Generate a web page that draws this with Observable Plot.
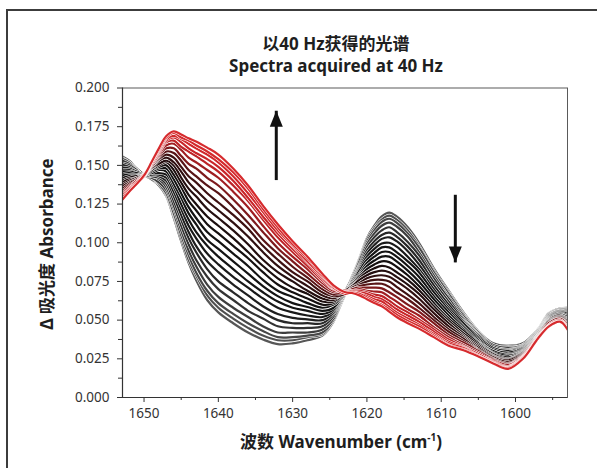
<!DOCTYPE html>
<html><head><meta charset="utf-8">
<script src="https://cdn.jsdelivr.net/npm/d3@7"></script>
<script src="https://cdn.jsdelivr.net/npm/@observablehq/plot@0.6"></script>
<style>
html,body{margin:0;padding:0;background:#fff;overflow:hidden;}
#wrap{position:relative;width:597px;height:468px;overflow:hidden;font-family:'Noto Sans','Noto Sans CJK SC',sans-serif;}
#frame{position:absolute;left:6px;top:9px;width:700px;height:600px;border-left:2px solid #3c3c3c;border-top:2px solid #3c3c3c;}
#chart{position:absolute;left:0;top:0;}
.t{position:absolute;font-weight:bold;color:#1e1e1e;white-space:nowrap;}
#t1{left:136px;width:400px;text-align:center;top:33px;line-height:22px;font-size:17px;}
#t2{left:136px;width:400px;text-align:center;top:55px;line-height:22px;font-size:17px;}
#yl{left:45px;top:244px;font-size:17px;transform:translate(-50%,-50%) rotate(-90deg);}
#xl{left:341px;top:440px;font-size:17px;transform:translate(-50%,-50%);}
</style></head>
<body>
<div id="wrap">
  <div id="frame"></div>
  <div id="chart"></div>
  <div class="t" id="t1">以40 Hz获得的光谱</div>
  <div class="t" id="t2">Spectra acquired at 40 Hz</div>
  <div class="t" id="yl">Δ 吸光度 Absorbance</div>
  <div class="t" id="xl">波数 Wavenumber (cm<sup style="font-size:10px">-1</sup>)</div>
</div>
<script>
const xDomain = [1652.9, 1593];
const yDomain = [0, 0.2];
const wavenumbers = [1653.4, 1652, 1651, 1650, 1649, 1648, 1647, 1646, 1645, 1644, 1643, 1641.5, 1640, 1638, 1636, 1634, 1632, 1630, 1628, 1626, 1624.5, 1622.9, 1622, 1621, 1620, 1619, 1618, 1617, 1616, 1614.5, 1613, 1611, 1609, 1607, 1605, 1603, 1601, 1599, 1597, 1595.5, 1594, 1593];
// one row per wavenumber, one column per spectrum (first = earliest, gray; last = latest, red)
const absorbance = [
[.157,.156,.155,.154,.152,.151,.149,.147,.146,.144,.143,.141,.139,.138,.136,.135,.133,.131,.130,.129,.128,.127,.126,.125],
[.153,.152,.152,.151,.150,.149,.148,.147,.146,.145,.144,.143,.142,.141,.140,.139,.138,.137,.136,.135,.135,.134,.134,.133],
[.148,.148,.147,.147,.147,.146,.146,.145,.145,.144,.144,.143,.143,.142,.142,.141,.141,.140,.140,.139,.139,.139,.138,.138],
[.144,.144,.143,.143,.143,.144,.144,.143,.144,.144,.143,.144,.143,.144,.144,.143,.144,.143,.144,.143,.144,.143,.143,.1435],
[.141,.141,.142,.142,.143,.143,.144,.144,.145,.145,.146,.147,.147,.148,.148,.149,.149,.150,.150,.151,.151,.152,.152,.152],
[.137,.138,.138,.139,.141,.142,.143,.144,.145,.147,.148,.149,.150,.151,.153,.154,.155,.156,.157,.158,.159,.160,.160,.161],
[.130,.131,.132,.134,.136,.138,.140,.142,.144,.146,.148,.150,.152,.153,.155,.157,.159,.161,.163,.165,.166,.167,.168,.169],
[.116,.118,.119,.122,.124,.127,.130,.133,.136,.138,.141,.144,.147,.150,.152,.155,.158,.161,.164,.166,.168,.169,.171,.172],
[.101,.103,.105,.108,.111,.115,.118,.122,.125,.129,.132,.136,.139,.142,.146,.149,.153,.156,.160,.162,.165,.167,.168,.170],
[.087,.089,.092,.095,.099,.103,.107,.111,.115,.119,.123,.127,.131,.135,.139,.143,.147,.151,.155,.159,.161,.164,.166,.1675],
[.076,.079,.081,.085,.089,.094,.098,.103,.107,.112,.116,.121,.125,.130,.134,.139,.143,.148,.152,.156,.158,.161,.163,.1655],
[.063,.066,.069,.073,.078,.083,.088,.093,.098,.102,.107,.112,.117,.122,.127,.132,.137,.142,.147,.151,.154,.157,.159,.1615],
[.055,.058,.061,.065,.070,.075,.081,.086,.091,.096,.101,.106,.111,.116,.121,.126,.132,.137,.142,.146,.149,.152,.154,.157],
[.048,.051,.054,.058,.063,.068,.073,.078,.083,.088,.093,.098,.103,.108,.113,.118,.123,.128,.133,.137,.140,.143,.1455,.148],
[.042,.045,.048,.052,.056,.061,.066,.071,.075,.080,.085,.090,.094,.099,.104,.109,.113,.118,.123,.127,.129,.132,.135,.137],
[.0375,.040,.043,.046,.051,.055,.059,.064,.068,.072,.076,.081,.085,.089,.094,.098,.102,.107,.111,.115,.117,.120,.122,.124],
[.0345,.037,.039,.042,.046,.050,.054,.058,.062,.0655,.069,.073,.077,.081,.085,.089,.093,.0965,.100,.1035,.106,.108,.110,.112],
[.035,.037,.039,.042,.045,.048,.0515,.055,.058,.061,.065,.068,.071,.075,.078,.081,.0845,.088,.091,.094,.096,.098,.099,.101],
[.037,.039,.040,.042,.045,.048,.0505,.053,.056,.0585,.061,.064,.067,.069,.072,.075,.0775,.080,.083,.085,.087,.088,.090,.091],
[.040,.041,.042,.044,.046,.048,.050,.052,.054,.056,.058,.060,.062,.064,.066,.068,.070,.072,.074,.0756,.0768,.078,.079,.080],
[.049,.050,.050,.051,.0525,.054,.055,.056,.057,.058,.060,.061,.062,.063,.064,.0655,.0665,.068,.069,.070,.0705,.071,.072,.0725],
[.068,.067,.068,.069,.068,.067,.068,.068,.069,.068,.067,.068,.068,.069,.068,.067,.068,.068,.069,.068,.068,.067,.068,.068],
[.078,.078,.077,.077,.076,.076,.075,.075,.074,.074,.073,.073,.072,.072,.071,.071,.070,.070,.069,.069,.068,.068,.068,.0675],
[.090,.089,.089,.088,.086,.085,.084,.083,.082,.080,.079,.078,.077,.076,.074,.073,.072,.071,.070,.069,.068,.067,.067,.066],
[.103,.102,.1005,.099,.097,.095,.093,.091,.089,.087,.085,.083,.081,.079,.077,.075,.073,.071,.069,.068,.067,.0655,.0645,.0635],
[.111,.1095,.108,.106,.1035,.101,.0985,.096,.0935,.091,.0885,.086,.0835,.081,.0785,.076,.0735,.071,.0685,.0665,.065,.0635,.062,.061],
[.117,.115,.1135,.111,.108,.105,.1025,.0995,.097,.094,.091,.088,.085,.082,.079,.076,.0735,.0705,.068,.0655,.0635,.062,.060,.059],
[.1195,.1175,.1155,.113,.110,.1065,.1035,.100,.097,.094,.091,.0875,.084,.081,.078,.075,.0715,.068,.065,.0625,.0605,.0585,.057,.0555],
[.117,.115,.113,.1105,.107,.104,.101,.0975,.094,.091,.088,.0845,.081,.078,.075,.0715,.068,.065,.062,.059,.057,.055,.0535,.052],
[.110,.108,.106,.104,.1005,.0975,.0945,.091,.088,.085,.082,.079,.076,.073,.070,.0665,.0635,.060,.057,.055,.053,.051,.0495,.048],
[.100,.098,.097,.094,.092,.089,.086,.083,.081,.078,.075,.072,.0695,.067,.064,.061,.058,.0555,.053,.0505,.049,.047,.046,.0445],
[.0835,.082,.081,.079,.077,.0745,.0725,.070,.068,.0655,.0635,.061,.059,.057,.0545,.052,.050,.048,.0455,.044,.0425,.041,.040,.039],
[.069,.068,.067,.065,.064,.062,.060,.058,.0565,.055,.053,.051,.0495,.048,.046,.044,.0425,.0405,.039,.0375,.036,.035,.034,.0335],
[.055,.054,.0535,.0525,.051,.050,.049,.048,.046,.045,.044,.043,.0415,.040,.039,.038,.0365,.0355,.034,.033,.0325,.032,.031,.0305],
[.043,.0425,.042,.041,.0405,.040,.039,.038,.037,.036,.0355,.035,.034,.033,.032,.031,.0305,.030,.029,.028,.028,.027,.027,.0265],
[.035,.035,.034,.034,.033,.032,.032,.031,.030,.030,.029,.0285,.028,.027,.0265,.026,.025,.0245,.024,.0235,.023,.0225,.022,.022],
[.0335,.033,.0325,.032,.031,.0305,.030,.029,.028,.0275,.027,.026,.025,.0245,.024,.023,.022,.0215,.021,.020,.0195,.019,.019,.0185],
[.035,.035,.034,.034,.0335,.033,.0325,.032,.0315,.031,.0305,.030,.0295,.029,.0285,.028,.0275,.027,.0265,.026,.026,.0255,.025,.025],
[.044,.044,.0435,.0435,.043,.043,.0425,.042,.042,.0415,.0415,.041,.0405,.0405,.040,.040,.0395,.039,.039,.0385,.0385,.038,.038,.038],
[.0545,.054,.054,.0535,.053,.053,.0525,.052,.0515,.051,.0505,.050,.050,.0495,.049,.0485,.048,.048,.047,.047,.0465,.046,.046,.046],
[.0575,.057,.057,.0565,.056,.056,.0555,.055,.0545,.054,.0535,.053,.053,.0525,.052,.0515,.051,.051,.050,.050,.0495,.049,.049,.049],
[.058,.0575,.057,.0565,.056,.055,.0545,.054,.053,.052,.052,.051,.050,.0495,.049,.048,.0475,.047,.046,.0455,.045,.0445,.044,.044]
];
const spectrumColors = ["#575757","#505050","#484848","#3e3e3e","#333333","#282828","#1f1f1f","#191919","#151515","#131313","#131313","#151010","#1b0e0e","#240f10","#2f1011","#3e1112","#581517","#7e1a1d","#a01e22","#bd2327","#c92529","#d0282b","#d42a2d","#d62b2e"];
const yMajor = [0, 0.025, 0.05, 0.075, 0.1, 0.125, 0.15, 0.175, 0.2];
const yMinor = [0.0125, 0.0375, 0.0625, 0.0875, 0.1125, 0.1375, 0.1625, 0.1875];
const xMajor = [1650, 1640, 1630, 1620, 1610, 1600];
const xMinor = [1645, 1635, 1625, 1615, 1605, 1595];
const arrowX = [1632.2, 1608.1];
const arrowFrom = [0.1405, 0.131];
const arrowTo = [0.1853, 0.0873];

const series = spectrumColors.map((c, s) => wavenumbers.map((w, k) => ({w, a: absorbance[k][s]})));
const lineMarks = series.flatMap((pts, s) => [
  Plot.line(pts, {x: "w", y: "a", stroke: "#ffffff", strokeWidth: 3.2, curve: "catmull-rom", clip: true}),
  Plot.line(pts, {x: "w", y: "a", stroke: spectrumColors[s], strokeWidth: 2.2, curve: "catmull-rom", clip: true})
]);
const arrows = arrowX.map((x, i) => ({x, from: arrowFrom[i], to: arrowTo[i]}));
const upHead = {draw(ctx) { ctx.moveTo(0, 0); ctx.lineTo(-6.5, 16); ctx.lineTo(6.5, 16); ctx.closePath(); }};
const downHead = {draw(ctx) { ctx.moveTo(0, 0); ctx.lineTo(-6.5, -16); ctx.lineTo(6.5, -16); ctx.closePath(); }};
const arrowMarks = [
  Plot.link(arrows, {x1: "x", x2: "x", y1: "from", y2: "to", stroke: "#111", strokeWidth: 3}),
  ...arrows.map(a => Plot.dot([a], {x: "x", y: "to", r: 5, symbol: a.to > a.from ? upHead : downHead, fill: "#111", stroke: "none"}))
];

const chart = Plot.plot({
  width: 597, height: 468,
  marginLeft: 122, marginRight: 30, marginTop: 87.5, marginBottom: 71,
  style: {background: "transparent", fontFamily: "'Noto Sans', sans-serif", fontSize: "13.5px", color: "#333", overflow: "visible"},
  x: {domain: xDomain, label: null},
  y: {domain: yDomain, label: null},
  marks: [
    ...lineMarks,
    ...arrowMarks,
    Plot.frame({stroke: "#5a5a5a", strokeWidth: 1}),
    Plot.ruleY([yDomain[0]], {stroke: "#333", strokeWidth: 1.2}),
    Plot.ruleX([xDomain[0]], {stroke: "#333", strokeWidth: 1.2}),
    Plot.axisY(yMajor, {tickSize: 5, tickPadding: 8, tickFormat: d3.format(".3f"), label: null, color: "#333"}),
    Plot.axisY(yMinor, {tickSize: 4, tickFormat: () => "", label: null, color: "#333"}),
    Plot.axisX(xMajor, {tickSize: 5, tickPadding: 6, tickFormat: d3.format("d"), label: null, color: "#333"}),
    Plot.axisX(xMinor, {tickSize: 3, tickFormat: () => "", label: null, color: "#333"})
  ]
});
document.getElementById("chart").appendChild(chart);
</script>
</body></html>
